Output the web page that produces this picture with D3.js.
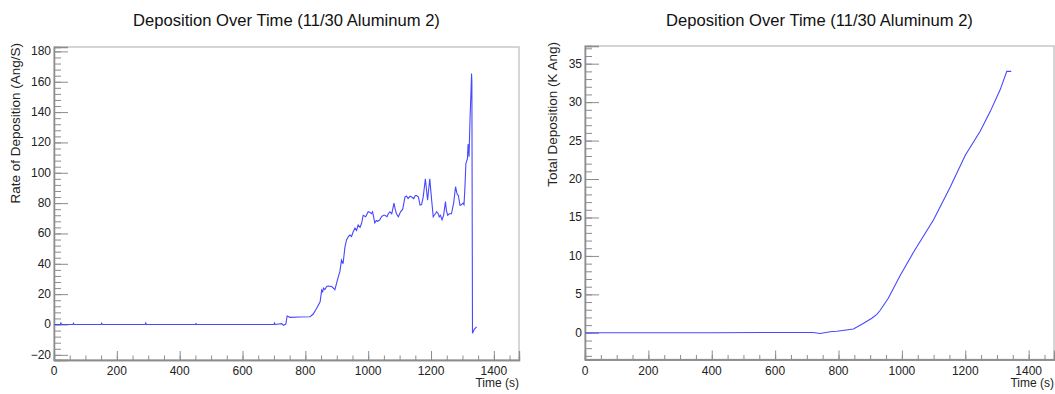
<!DOCTYPE html>
<html>
<head>
<meta charset="utf-8">
<script src="https://cdn.jsdelivr.net/npm/d3@7"></script>
<style>
  body { margin: 0; background: #fff; }
  svg { font-family: "Liberation Sans", Arial, sans-serif; }
</style>
</head>
<body>
<svg id="chart" width="1055" height="394"></svg>
<script>
// rate of deposition (Ang/S) vs time (s)
const rateTime = [0, 20, 22, 24, 60, 62, 64, 150, 152, 154, 290, 292, 294, 450, 452, 454, 700, 702, 704, 725, 730, 738,
    742, 751, 780, 815, 825, 836, 847, 852, 855, 858, 862, 868, 873, 884, 894, 905, 910, 915, 920, 926, 931, 937, 942,
    947, 952, 958, 963, 968, 974, 979, 984, 992, 1000, 1005, 1010, 1014, 1021, 1026, 1030, 1037, 1042, 1048, 1053, 1060,
    1064, 1069, 1075, 1082, 1086, 1090, 1096, 1103, 1110, 1117, 1122, 1127, 1133, 1138, 1145, 1150, 1154, 1160, 1165,
    1170, 1175, 1182, 1186, 1189, 1193, 1196, 1202, 1207, 1210, 1214, 1218, 1223, 1226, 1230, 1235, 1240, 1246, 1249,
    1253, 1258, 1265, 1272, 1278, 1283, 1287, 1292, 1295, 1302, 1305, 1308, 1311, 1316, 1318, 1321, 1324, 1327, 1329,
    1330, 1332, 1338, 1345];
const rateValue = [0, 0, 1, 0, 0, 0.8, 0, 0, 0.8, 0, 0, 1, 0, 0, 0.6, 0, 0, 1, 0, 0.6, -0.5, 0.3,
    5.6, 4.7, 4.9, 5.1, 6.9, 10.7, 15, 22.7, 21.6, 24, 23, 25, 25.4, 25, 23, 31.5, 35, 42.5, 40, 51, 55.7, 58, 59,
    58, 61, 63.6, 62, 65.6, 64, 66.7, 72, 71, 74.3, 74, 73, 74.3, 67, 68.5, 68, 69, 71, 72, 72, 71,
    73, 74.3, 73, 80, 76, 73, 71, 74.3, 76, 84, 84.7, 83, 84.5, 84, 83, 85, 85, 84, 78.7,
    79, 84, 96, 88, 82, 90, 96, 82, 71, 72, 73, 74.3, 73, 71, 72, 69, 72, 81, 75,
    72, 73, 73, 80, 90.8, 86, 85, 78.7, 78.7, 80, 79, 90.8, 106, 109.5, 119, 110.6, 134.8, 152, 165.5,
    160, -5.8, -3, -1.5];

// total deposition (K Ang) vs time (s)
const totalTime = [0, 200, 400, 584, 650, 720, 742, 774, 795, 847, 878, 905, 921, 931, 957, 995, 1037, 1100,
    1153, 1200, 1247, 1279, 1310, 1331, 1345];
const totalValue = [0, 0, 0, 0.05, 0.05, 0.05, -0.08, 0.13, 0.2, 0.5, 1.2, 1.9, 2.4, 2.9, 4.5, 7.5, 10.5, 14.7,
    19, 23.1, 26.2, 28.8, 31.6, 34, 34];

const xTicks = [0, 200, 400, 600, 800, 1000, 1200, 1400];
const rateTicks = [-20, 0, 20, 40, 60, 80, 100, 120, 140, 160, 180];
const totalTicks = [0, 5, 10, 15, 20, 25, 30, 35];

const titleText = "Deposition Over Time (11/30 Aluminum 2)";

const svg = d3.select("#chart");

function drawPanel(cfg) {
    const g = svg.append("g");
    const x = d3.scaleLinear().domain([0, 1480]).range([cfg.left, cfg.right]);
    const y = d3.scaleLinear().domain(cfg.yDomain).range([cfg.bottom, cfg.top]);

    // frame
    g.append("rect")
        .attr("x", cfg.left).attr("y", cfg.top)
        .attr("width", cfg.right - cfg.left).attr("height", cfg.bottom - cfg.top)
        .attr("fill", "none").attr("stroke", "#c8c8c8").attr("stroke-width", 1.5);

    // minor ticks
    const xMinor = d3.range(0, 1480, 50);
    const yMinor = d3.range(Math.ceil(cfg.yDomain[0] / cfg.yMinorStep) * cfg.yMinorStep, cfg.yDomain[1], cfg.yMinorStep);

    const xAxis = g.append("g").attr("transform", `translate(0,${cfg.bottom})`);
    xAxis.call(d3.axisTop(x).tickValues(xMinor).tickSize(4.5).tickFormat(""));
    xAxis.append("g").call(d3.axisTop(x).tickValues(xTicks).tickSize(9).tickFormat(""));
    xAxis.selectAll("line").attr("stroke", "#8c8c8c");
    xAxis.selectAll(".domain").attr("stroke", "#8c8c8c").attr("stroke-width", 1.3);

    const yAxis = g.append("g").attr("transform", `translate(${cfg.left},0)`);
    yAxis.call(d3.axisRight(y).tickValues(yMinor).tickSize(7).tickFormat(""));
    yAxis.append("g").call(d3.axisRight(y).tickValues(cfg.yTicks).tickSize(14).tickFormat(""));
    yAxis.selectAll("line").attr("stroke", "#8c8c8c");
    yAxis.selectAll(".domain").attr("stroke", "#8c8c8c").attr("stroke-width", 1.3);

    // tick labels
    g.selectAll(".xlab").data(xTicks).join("text")
        .attr("x", d => x(d)).attr("y", cfg.bottom + 15)
        .attr("text-anchor", "middle").attr("font-size", 12).attr("fill", "#222")
        .text(d => d);
    g.selectAll(".ylab").data(cfg.yTicks).join("text")
        .attr("x", cfg.left - 3).attr("y", d => y(d) + 4)
        .attr("text-anchor", "end").attr("font-size", 12).attr("fill", "#222")
        .text(d => d3.format("")(d));

    // axis titles
    g.append("text")
        .attr("x", cfg.right).attr("y", cfg.bottom + 27)
        .attr("text-anchor", "end").attr("font-size", 12).attr("fill", "#222")
        .text("Time (s)");
    g.append("text")
        .attr("transform", `translate(${cfg.yTitleX},${cfg.top - 4}) rotate(-90)`)
        .attr("text-anchor", "end").attr("font-size", 13.5).attr("fill", "#222")
        .text(cfg.yTitle);

    // title
    g.append("text")
        .attr("x", (cfg.left + cfg.right) / 2).attr("y", 26)
        .attr("text-anchor", "middle").attr("font-size", 16.6).attr("fill", "#111")
        .text(titleText);

    const line = d3.line().x((d, i) => x(cfg.xs[i])).y(d => y(d));
    g.append("path")
        .datum(cfg.ys)
        .attr("d", line)
        .attr("fill", "none")
        .attr("stroke", "#4848ff")
        .attr("stroke-width", 1.1);
}

drawPanel({
    left: 54, right: 519, top: 47, bottom: 360,
    yDomain: [-23.4, 182.9], yTicks: rateTicks, yMinorStep: 4,
    yTitle: "Rate of Deposition (Ang/S)", yTitleX: 20,
    xs: rateTime, ys: rateValue
});

drawPanel({
    left: 585, right: 1054, top: 46, bottom: 359.5,
    yDomain: [-3.47, 37.3], yTicks: totalTicks, yMinorStep: 1,
    yTitle: "Total Deposition (K Ang)", yTitleX: 557,
    xs: totalTime, ys: totalValue
});
</script>
</body>
</html>
